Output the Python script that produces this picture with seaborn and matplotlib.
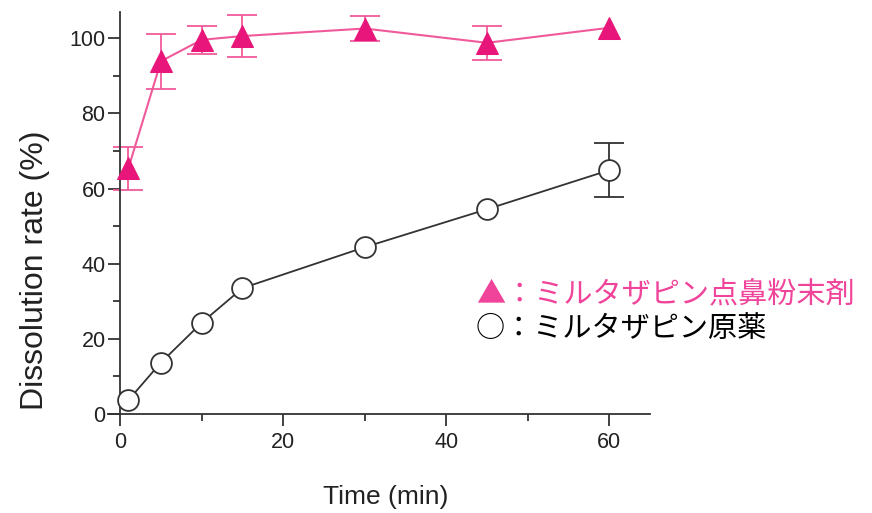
import pandas as pd
import seaborn as sns
import matplotlib.pyplot as plt
import numpy as np

# Dissolution data
time = [1, 5, 10, 15, 30, 45, 60]
nasal_mean = [65.4, 93.9, 99.6, 100.6, 102.6, 98.8, 102.8]
nasal_sd = [5.8, 7.3, 3.7, 5.7, 3.4, 4.6, 0.0]
bulk_mean = [3.7, 13.7, 24.3, 33.5, 44.4, 54.5, 64.9]
bulk_sd = [0.0, 0.0, 0.0, 0.0, 0.0, 0.0, 7.2]

label_nasal = '▲：ミルタザピン点鼻粉末剤'
label_bulk = '○：ミルタザピン原薬'

pink = '#E8167A'
pink_line = '#F05A9A'
dark = '#333333'

sns.set_style('ticks')
plt.rcParams['font.family'] = ['Liberation Sans', 'DejaVu Sans']

df = pd.DataFrame({
    'time': time * 2,
    'rate': nasal_mean + bulk_mean,
    'sd': nasal_sd + bulk_sd,
    'group': ['nasal'] * len(time) + ['bulk'] * len(time),
})

fig = plt.figure(figsize=(8.72, 5.13), dpi=100)
ax = fig.add_axes([108 / 872, 1 - 414 / 513, (650 - 108) / 872, (414 - 12) / 513])

# error bars first so markers sit on top
for g, col in [('nasal', pink_line), ('bulk', dark)]:
    d = df[df['group'] == g]
    d = d[d['sd'] > 0]
    ax.errorbar(d['time'], d['rate'], yerr=d['sd'], fmt='none', ecolor=col,
                elinewidth=1.3, capsize=11, capthick=1.3, zorder=2)

sns.lineplot(data=df[df['group'] == 'bulk'], x='time', y='rate', ax=ax,
             color=dark, lw=1.3, marker='o', markersize=15,
             markerfacecolor='white', markeredgecolor=dark, markeredgewidth=1.3,
             zorder=3)
sns.lineplot(data=df[df['group'] == 'nasal'], x='time', y='rate', ax=ax,
             color=pink_line, lw=1.5, marker='^', markersize=16,
             markerfacecolor=pink, markeredgecolor=pink, zorder=4)

# axis lines: y axis sits at x=0, x axis pokes out a bit to the left
ax.set_xlim(-1.5, 65)
ax.set_ylim(0, 107)
ax.spines['left'].set_position(('data', 0))
ax.spines['top'].set_visible(False)
ax.spines['right'].set_visible(False)
for s in ['left', 'bottom']:
    ax.spines[s].set_color(dark)
    ax.spines[s].set_linewidth(1.3)

ax.set_xticks([0, 20, 40, 60])
ax.set_xticks([10, 30, 50], minor=True)
ax.set_yticks([0, 20, 40, 60, 80, 100])
ax.set_yticks([10, 30, 50, 70, 90], minor=True)
ax.tick_params(which='major', length=8.6, width=1.3, color=dark, labelsize=15.5,
               labelcolor='#222222')
ax.tick_params(axis='y', which='major', pad=2)
ax.tick_params(axis='x', which='major', pad=4)
ax.tick_params(which='minor', length=5, width=1.3, color=dark)
ax.set_xlabel('')
ax.set_ylabel('')

# axis titles placed on the figure
fig.text(386 / 872, 1 - 497 / 513, 'Time (min)', fontsize=19, color='#222222',
         ha='center', va='center')
fig.text(35 / 872, 1 - 270 / 513, 'Dissolution rate (%)', fontsize=23,
         color='#222222', rotation=90, ha='center', va='center')

# legend written as text
cjk = ['Noto Sans CJK JP', 'DejaVu Sans']
fig.text(476 / 872, 1 - 295 / 513, label_nasal, color='#F0449A', fontsize=21,
         family=cjk, va='center', ha='left')
fig.text(476 / 872, 1 - 329 / 513, label_bulk, color='black', fontsize=21,
         family=cjk, va='center', ha='left')

fig.savefig('out.png', dpi=100)
